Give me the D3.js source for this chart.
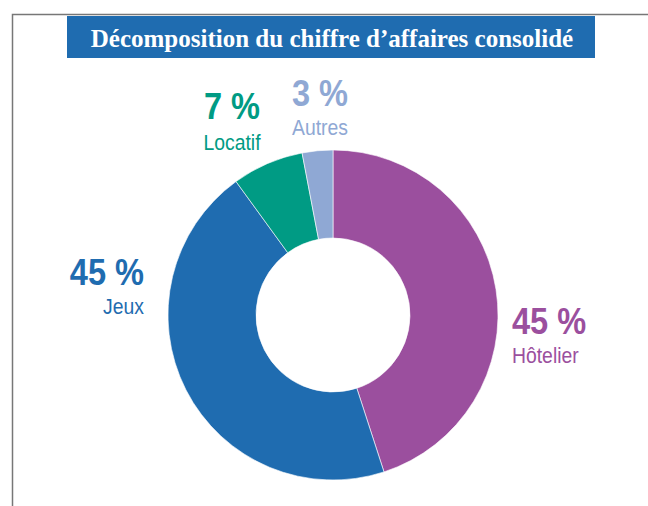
<!DOCTYPE html>
<html lang="fr">
<head>
  <meta charset="UTF-8">
  <title>Décomposition du chiffre d'affaires consolidé</title>
  <style>
    body { margin: 0; background: #fff; }
    svg { display: block; }
  </style>
</head>
<body>
  <div id="chart"></div>
  <script src="https://d3js.org/d3.v7.min.js"></script>
  <script>
    // data (clockwise from 12 o'clock)
    const categories = ["Hôtelier", "Jeux", "Locatif", "Autres"];
    const shares = [45, 45, 7, 3];
    const shareLabels = ["45 %", "45 %", "7 %", "3 %"];
    const colors = ["#9b4f9e", "#1f6cb0", "#009b84", "#8fa8d4"];
    const title = "Décomposition du chiffre d’affaires consolidé";

    const width = 648, height = 506;
    const cx = 333, cy = 315,
      outerRadius = 165,
      innerRadius = 77;

    const svg = d3.select("#chart")
      .append("svg")
      .attr("width", width)
      .attr("height", height);

    // frame lines (top + left)
    svg.append("path")
      .attr("d", `M12.5,${height} V14.5 H${width}`)
      .attr("fill", "none")
      .attr("stroke", "#777")
      .attr("stroke-width", 1.5);

    // title bar
    svg.append("rect")
      .attr("x", 67)
      .attr("y", 16)
      .attr("width", 528)
      .attr("height", 42)
      .attr("fill", "#1f6cb0");

    svg.append("text")
      .attr("x", 332)
      .attr("y", 47)
      .attr("text-anchor", "middle")
      .attr("fill", "white")
      .style("font-family", "'Liberation Serif', 'DejaVu Serif', serif")
      .style("font-weight", "bold")
      .style("font-size", "25px")
      .text(title);

    const color = d3.scaleOrdinal(categories, colors);

    const arcs = d3.pie().sort(null).value(d => d)(shares);
    const arc = d3.arc().innerRadius(innerRadius).outerRadius(outerRadius);

    const g = svg.append("g")
      .attr("transform", `translate(${cx},${cy})`);

    g.append("g")
      .attr("stroke", "white")
      .attr("stroke-width", 0.6)
      .selectAll("path")
      .data(arcs)
      .join("path")
      .attr("fill", (d, i) => color(categories[i]))
      .attr("d", arc);

    // label anchors, offsets from the donut centre
    const labelPos = [
      { x: 179, y: 19, anchor: "start" },   // Hôtelier
      { x: -189, y: -30, anchor: "end" },   // Jeux
      { x: -101, y: -196, anchor: "middle" }, // Locatif
      { x: -13, y: -209, anchor: "middle" }   // Autres
    ];

    // condensed look: squeeze the sans face horizontally
    const labels = g.append("g")
      .style("font-family", "'Liberation Sans', Arial, sans-serif")
      .selectAll("text")
      .data(arcs)
      .join("text")
      .attr("transform", (d, i) => `translate(${labelPos[i].x},${labelPos[i].y}) scale(0.88,1)`)
      .attr("text-anchor", (d, i) => labelPos[i].anchor)
      .attr("fill", (d, i) => color(categories[i]));

    labels.append("tspan")
      .attr("x", 0)
      .attr("y", 0)
      .style("font-weight", "bold")
      .style("font-size", "37px")
      .text((d, i) => shareLabels[i]);

    labels.append("tspan")
      .attr("x", 0)
      .attr("y", (d, i) => i === 2 ? 31 : 29)
      .style("font-size", "22px")
      .text((d, i) => categories[i]);
  </script>
</body>
</html>
